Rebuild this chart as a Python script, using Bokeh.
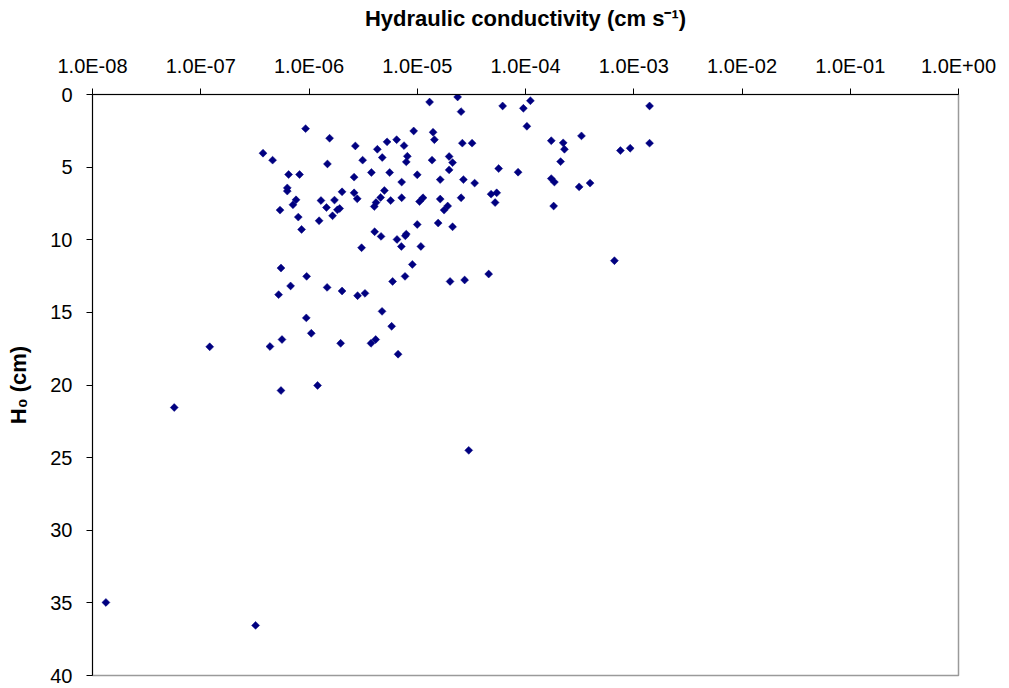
import math
from bokeh.plotting import figure
from bokeh.models import Range1d, FixedTicker, CustomJSTickFormatter, ColumnDataSource
from bokeh.embed import file_html
from bokeh.resources import INLINE

# Hydraulic conductivity (cm/s)
conductivity = [
    9.3e-7, 1.55e-6, 3.76e-7, 4.61e-7, 2.68e-6, 4.28e-6, 5.26e-6, 6.45e-6, 7.55e-6, 8.1e-6,
    7.92e-6, 4.75e-6, 3.13e-6, 1.48e-6, 6.48e-7, 8.18e-7, 2.61e-6, 3.77e-6, 5.56e-6, 7.18e-6,
    6.3e-7, 6.3e-7, 2.02e-6, 2.61e-6, 2.79e-6, 4.97e-6, 4.59e-6, 4.16e-6, 4.01e-6, 5.68e-6,
    7.18e-6, 7.59e-7, 7.11e-7, 1.29e-6, 1.72e-6, 1.45e-6, 1.83e-6, 1.92e-6, 1.65e-6, 5.4e-7,
    7.96e-7, 1.24e-6, 8.54e-7, 4.04e-6, 4.63e-6, 6.5e-6, 7.76e-6, 7.92e-6, 7.13e-6, 3.06e-6,
    1.3e-5, 2.36e-5, 2.54e-5, 6.15e-5, 9.56e-5, 1.11e-4, 1.03e-4, 9.27e-6, 1.4e-5, 1.44e-5,
    2.61e-5, 3.21e-5, 1.73e-4, 2.23e-4, 2.29e-4, 3.29e-4,
    1.37e-5, 1.97e-5, 2.12e-5, 1.97e-5, 5.65e-5, 8.54e-5, 2.11e-4, 1.0e-5, 1.63e-5, 2.67e-5,
    3.39e-5, 1.73e-4, 1.85e-4, 3.13e-4, 3.95e-4, 1.05e-5, 1.13e-5, 1.63e-5, 2.54e-5, 4.81e-5,
    5.42e-5, 5.24e-5, 1.82e-4, 1.77e-5, 1.91e-5, 1.0e-5, 1.56e-5, 2.12e-5, 1.08e-5,
    1.4e-3, 7.53e-4, 9.27e-4, 1.4e-3, 6.63e-4,
    5.51e-7, 9.51e-7, 6.76e-7, 5.24e-7, 1.47e-6, 2.02e-6, 2.81e-6, 3.29e-6, 5.92e-6, 7.71e-6,
    9.01e-6, 4.73e-6, 5.8e-6, 9.44e-7, 1.05e-6, 5.63e-7, 4.36e-7, 1.96e-6, 3.74e-6, 4.13e-6,
    6.65e-6, 1.2e-6, 5.51e-7, 1.21e-7, 5.69e-8, 2.01e-5, 2.74e-5, 4.57e-5, 2.99e-5, 1.33e-8,
    3.21e-7,
]

# H0 (cm)
h0 = [
    2.35, 3.01, 4.04, 4.52, 3.54, 3.77, 3.26, 3.11, 3.52, 4.25,
    4.64, 4.34, 4.52, 4.78, 5.51, 5.51, 5.69, 5.37, 5.37, 6.03,
    6.43, 6.65, 6.70, 6.77, 7.18, 6.61, 7.09, 7.44, 7.71, 7.30,
    7.11, 7.25, 7.59, 7.30, 7.27, 7.78, 7.94, 7.85, 8.35, 7.96,
    8.44, 8.69, 9.29, 9.45, 9.77, 9.98, 9.73, 9.61, 10.46, 10.55,
    0.52, 0.17, 1.18, 0.79, 0.95, 0.43, 2.19, 2.51, 2.60, 3.11,
    3.35, 3.35, 3.18, 3.33, 3.77, 2.85,
    4.52, 4.27, 4.69, 5.19, 5.10, 5.35, 4.62, 5.53, 5.86, 5.86,
    6.10, 5.79, 6.03, 6.36, 6.10, 7.37, 7.11, 7.20, 7.11, 6.86,
    6.77, 7.44, 7.68, 7.96, 7.68, 8.95, 8.85, 9.11, 10.46,
    0.79, 3.86, 3.70, 3.35, 11.44,
    11.95, 12.52, 13.18, 13.78, 13.28, 13.53, 13.85, 13.69, 12.87, 12.52,
    11.70, 14.93, 15.96, 15.38, 16.44, 16.87, 17.35, 17.13, 17.13, 16.87,
    17.88, 20.03, 20.38, 17.37, 21.55, 12.87, 12.77, 12.36, 24.5, 34.97,
    36.55,
]

x_ticks = [1e-8, 1e-7, 1e-6, 1e-5, 1e-4, 1e-3, 1e-2, 1e-1, 1e0]
x_tick_labels = ["1.0E-08", "1.0E-07", "1.0E-06", "1.0E-05", "1.0E-04",
                 "1.0E-03", "1.0E-02", "1.0E-01", "1.0E+00"]
y_ticks = [0, 5, 10, 15, 20, 25, 30, 35, 40]

x_title = "Hydraulic conductivity (cm s\u207B\u00B9)"
y_title = "H\u2080 (cm)"

FONT = "Liberation Sans"

p = figure(width=1009, height=688,
           x_axis_type="log", x_axis_location="above",
           x_range=Range1d(1e-8, 1), y_range=Range1d(40, 0),
           output_backend="svg", toolbar_location=None,
           min_border_left=92, min_border_top=94,
           min_border_right=51, min_border_bottom=13)

p.xgrid.visible = False
p.ygrid.visible = False
p.outline_line_color = "#9a9a9a"
p.outline_line_width = 1.5
p.background_fill_color = "white"
p.border_fill_color = "white"

src = ColumnDataSource(dict(k=conductivity, h=h0))
p.scatter(x="k", y="h", source=src, marker="square", angle=math.pi / 4,
          size=5.6, fill_color="#000080", line_color="#000080", line_width=0.5)

xa = p.xaxis[0]
xa.ticker = FixedTicker(ticks=x_ticks, minor_ticks=[])
xa.formatter = CustomJSTickFormatter(args=dict(lbls=x_tick_labels, tvals=x_ticks), code="""
let best = 0, bd = Infinity;
for (let i = 0; i < tvals.length; i++) {
  const d = Math.abs(Math.log10(tvals[i]) - Math.log10(tick));
  if (d < bd) { bd = d; best = i; }
}
return lbls[best];
""")
xa.axis_label = x_title

ya = p.yaxis[0]
ya.ticker = FixedTicker(ticks=y_ticks, minor_ticks=[])
ya.axis_label = y_title

for ax in (xa, ya):
    ax.axis_line_color = "black"
    ax.axis_line_width = 1
    ax.major_tick_line_color = "black"
    ax.major_tick_out = 6
    ax.major_tick_in = 0
    ax.minor_tick_out = 0
    ax.minor_tick_in = 0
    ax.major_label_text_font = FONT
    ax.major_label_text_font_size = "20px"
    ax.major_label_text_color = "black"
    ax.axis_label_text_font = FONT
    ax.axis_label_text_font_style = "bold"
    ax.axis_label_text_font_size = "22px"
    ax.axis_label_text_color = "black"

xa.major_label_standoff = 12
xa.axis_label_standoff = 21
ya.major_label_standoff = 14
ya.axis_label_standoff = 16

open("out.html", "w").write(file_html(p, INLINE))
